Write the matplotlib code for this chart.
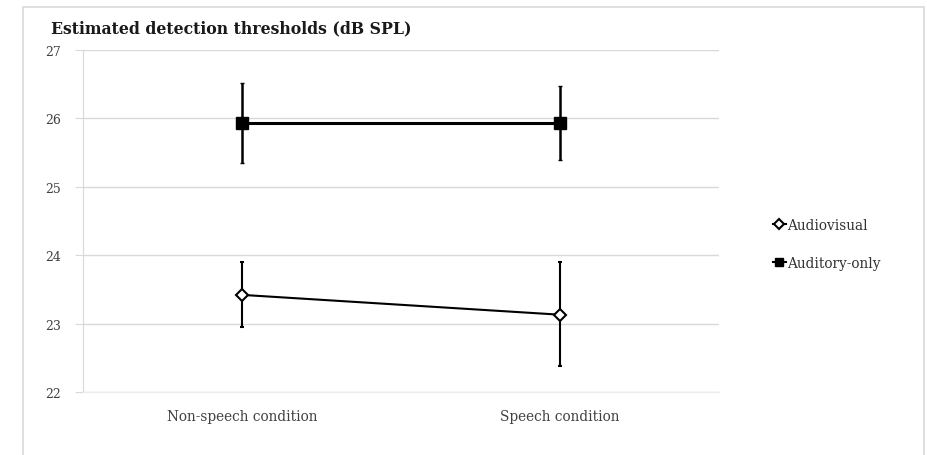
import matplotlib
matplotlib.use("Agg")
import matplotlib.pyplot as plt
from matplotlib.patches import Rectangle
from matplotlib.lines import Line2D

categories = ["Non-speech condition", "Speech condition"]
audiovisual = [23.42, 23.13]
audiovisual_lo = [22.95, 22.38]
audiovisual_hi = [23.90, 23.90]
auditory = [25.93, 25.93]
auditory_lo = [25.35, 25.39]
auditory_hi = [26.52, 26.48]
yticks = [22, 23, 24, 25, 26, 27]
title = "Estimated detection thresholds (dB SPL)"

W, H = 928, 456
fig = plt.figure(figsize=(W / 100, H / 100), dpi=100)
fig.patch.set_facecolor("white")

# outer chart border
fig.add_artist(Rectangle((23 / W, -0.02), (924 - 23) / W, (H - 8) / H + 0.02,
                         transform=fig.transFigure, fill=False,
                         edgecolor="#d9d9d9", linewidth=1.2))

ax = fig.add_axes([83 / W, 1 - 393 / H, (719 - 83) / W, (393 - 51) / H])
x = [0, 1]
ax.set_xlim(-0.5, 1.5)
ax.set_ylim(22, 27)

for s in ["top", "right"]:
    ax.spines[s].set_visible(False)
ax.spines["left"].set_color("#d9d9d9")
ax.spines["bottom"].set_color("#ececec")
ax.grid(axis="y", color="#d9d9d9", linewidth=1.0)
ax.set_axisbelow(True)

ax.set_yticks(yticks)
ax.set_yticklabels([str(v) for v in yticks], family="DejaVu Serif", fontsize=9, color="#404040")
ax.tick_params(axis="y", length=6, color="#d9d9d9", pad=10)
ax.set_xticks(x)
ax.set_xticklabels(categories, family="DejaVu Serif", fontsize=9.8, color="#404040")
ax.tick_params(axis="x", length=0, pad=12)

av_err = [[m - l for m, l in zip(audiovisual, audiovisual_lo)],
          [h - m for m, h in zip(audiovisual, audiovisual_hi)]]
au_err = [[m - l for m, l in zip(auditory, auditory_lo)],
          [h - m for m, h in zip(auditory, auditory_hi)]]

ax.errorbar(x, audiovisual, yerr=av_err, color="black", linewidth=1.5,
            elinewidth=1.5, capsize=1.5, capthick=1.0,
            marker="D", markersize=6, markerfacecolor="white",
            markeredgecolor="black", markeredgewidth=1.5, label="Audiovisual", zorder=3)
ax.errorbar(x, auditory, yerr=au_err, color="black", linewidth=2.2,
            elinewidth=1.8, capsize=1.5, capthick=1.0,
            marker="s", markersize=8, markerfacecolor="black",
            markeredgecolor="black", label="Auditory-only", zorder=3)

fig.text(51 / W, 1 - 29 / H, title, family="DejaVu Serif", fontweight="bold",
         fontsize=11.3, color="#1a1a1a", va="center", ha="left")

h1 = Line2D([], [], color="black", marker="D", markersize=5, markerfacecolor="white",
            markeredgewidth=1.5, linewidth=1.5)
h2 = Line2D([], [], color="black", marker="s", markersize=6, linewidth=1.5)
leg = fig.legend([h1, h2], ["Audiovisual", "Auditory-only"], loc="upper left",
                 bbox_to_anchor=(761 / W, 1 - 207 / H), frameon=False,
                 prop={"family": "DejaVu Serif", "size": 9.8},
                 handlelength=0.9, handletextpad=0.15, labelspacing=1.75)
for t in leg.get_texts():
    t.set_color("#333333")

fig.savefig("out.png", dpi=100, facecolor="white")
